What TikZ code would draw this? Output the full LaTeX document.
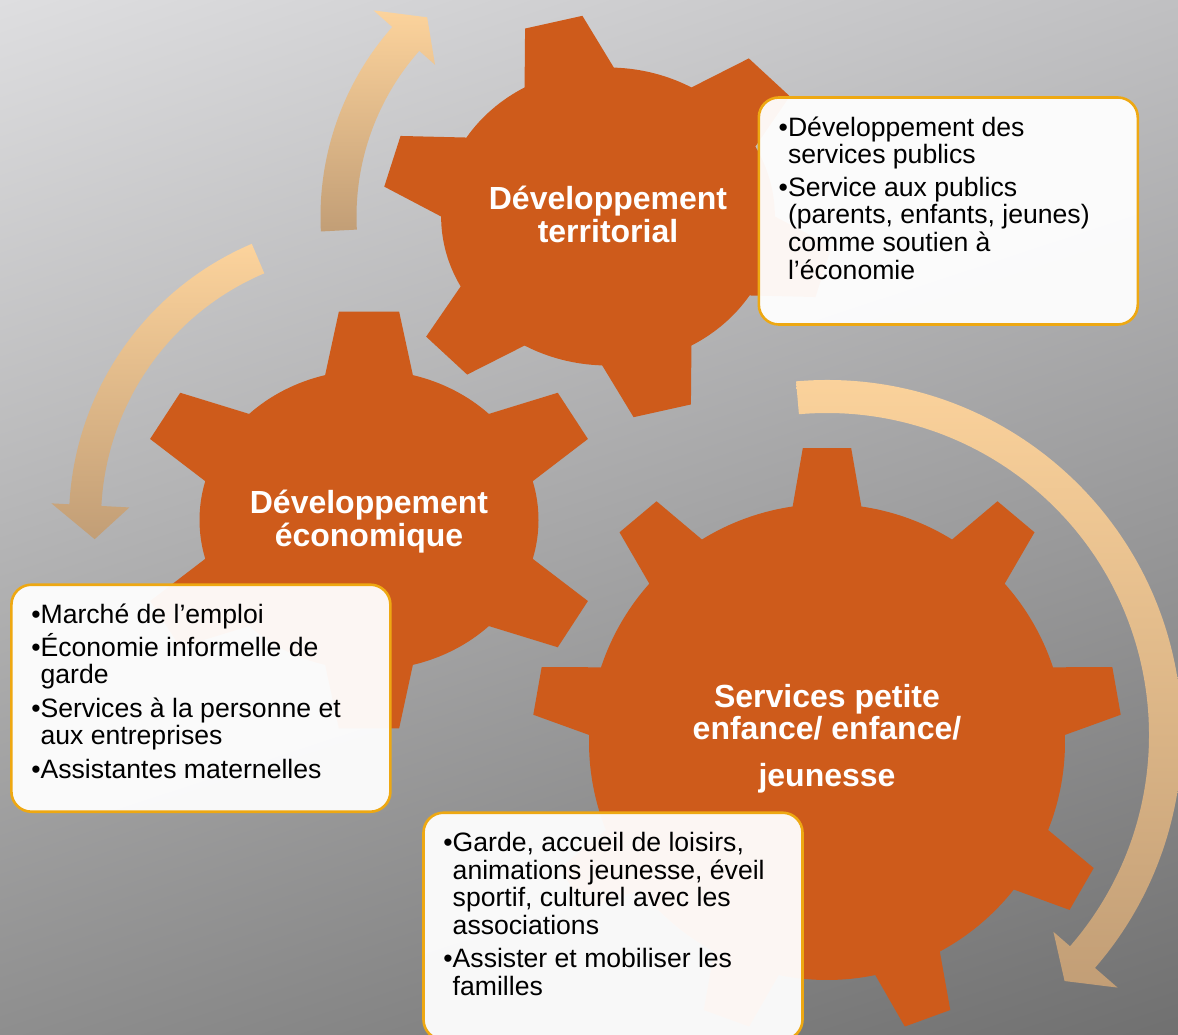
\documentclass[tikz,border=0pt]{standalone}
\usepackage{fontspec}
\setmainfont{Liberation Sans}
\usepackage{xcolor}
\usepackage{tikz}
\usetikzlibrary{positioning,shadings}

\definecolor{gearorange}{RGB}{206,91,27}
\definecolor{boxline}{RGB}{238,168,18}
\definecolor{arrowlight}{RGB}{252,211,156}
\definecolor{arrowdark}{RGB}{194,158,118}
\definecolor{bgtl}{RGB}{222,222,224}
\definecolor{bgtr}{RGB}{192,192,194}
\definecolor{bgbl}{RGB}{142,142,142}
\definecolor{bgbr}{RGB}{112,112,112}

\begin{document}
\begin{tikzpicture}[x=1pt, y=1pt,
    gear/.style={fill=gearorange},
    cycle arrow/.style={top color=arrowlight, bottom color=arrowdark},
    gear title/.style={text=white, inner sep=0pt, anchor=base,
      font=\fontsize{32}{32.3}\selectfont\bfseries},
    info box/.style={draw=boxline, line width=2.6pt, rounded corners=20pt,
      fill=white, fill opacity=0.95, minimum width=379pt, minimum height=227pt, inner sep=0pt},
    info text/.style={anchor=base west, inner sep=0pt, text=black,
      font=\fontsize{26.6}{27}\selectfont}]

    \clip (0,0) rectangle (1178,-1035);
    \shade[upper left=bgtl, upper right=bgtr, lower left=bgbl, lower right=bgbr]
      (0,0) rectangle (1178,-1035);

    \coordinate (gear-1) at (608,-216.5);
    \coordinate (gear-2) at (369,-520);
    \coordinate (gear-3) at (827,-742);

    % circular arrows
    \foreach \cx/\cy/\ro/\ri/\ta/\ha/\bo/\bi/\tr/\tp in {
        606.5/-216.5/286/250/183/138.5/311/229/268/132,
        369/-520/300/268/113/177/318/240/275/184,
        827/-735/355/322/95/-41/385/300/342/-46}
      \shade[cycle arrow, shift={(\cx,\cy)}] (\ta:\ro)
        arc[start angle=\ta, end angle=\ha, radius=\ro]
        -- (\ha:\bo) -- (\tp:\tr) -- (\ha:\bi) -- (\ha:\ri)
        arc[start angle=\ha, end angle=\ta, radius=\ri] -- cycle;

    % gears
    \foreach \g/\rb/\rt/\nt/\ga/\wt/\wb/\sx in {
        1/149/202/6/104/7.5/16/1.12,
        2/150/210/6/90/7.3/15/1.13,
        3/238/295/9/90/4.7/8.3/1} {
      \pgfmathsetmacro\tstep{360/\nt}
      \fill[gear, shift={(gear-\g)}, xscale=\sx] ({\ga-\wb}:\rb)
        \foreach \k in {1,...,\nt} {
          -- ({\ga+(\k-1)*\tstep-\wt}:\rt) -- ({\ga+(\k-1)*\tstep+\wt}:\rt)
          -- ({\ga+(\k-1)*\tstep+\wb}:\rb)
          arc[start angle={\ga+(\k-1)*\tstep+\wb}, delta angle={\tstep-2*\wb}, radius=\rb]
        } -- cycle;
    }

    \node[gear title] (title-1) at ([yshift=6.5]gear-1)
      {\begin{tabular}[t]{@{}c@{}}Développement\\territorial\end{tabular}};
    \node[gear title] (title-2) at ([yshift=6.5]gear-2)
      {\begin{tabular}[t]{@{}c@{}}Développement\\économique\end{tabular}};
    \node[gear title] (title-3) at ([yshift=35]gear-3)
      {\begin{tabular}[t]{@{}c@{}}Services petite\\enfance/ enfance/\\[14pt]jeunesse\end{tabular}};

    % text boxes
    \node[info box] (box-1) at (948.3,-211) {};
    \node[info box] (box-2) at (200.9,-698.2) {};
    \node[info box] (box-3) at (613,-926.2) {};

    \node[info text] (text-1) at ([xshift=21, yshift=-40]box-1.north west)
      {\begin{tabular}[t]{@{}l@{}l@{}}
        •&Développement des\\
        &services publics\\[6pt]
        •&Service aux publics\\
        &\smash{(parents, enfants, jeunes)}\\
        &comme soutien à\\
        &l’économie
      \end{tabular}};
    \node[info text] (text-2) at ([xshift=21, yshift=-40]box-2.north west)
      {\begin{tabular}[t]{@{}l@{}l@{}}
        •&Marché de l’emploi\\[6pt]
        •&\smash{Économie informelle de}\\
        &garde\\[6pt]
        •&Services à la personne et\\
        &aux entreprises\\[6pt]
        •&Assistantes maternelles
      \end{tabular}};
    \node[info text] (text-3) at ([xshift=21, yshift=-40.5]box-3.north west)
      {\begin{tabular}[t]{@{}l@{}l@{}}
        •&Garde, accueil de loisirs,\\
        &animations jeunesse, éveil\\
        &sportif, culturel avec les\\
        &associations\\[6pt]
        •&Assister et mobiliser les\\
        &familles
      \end{tabular}};
\end{tikzpicture}
\end{document}
